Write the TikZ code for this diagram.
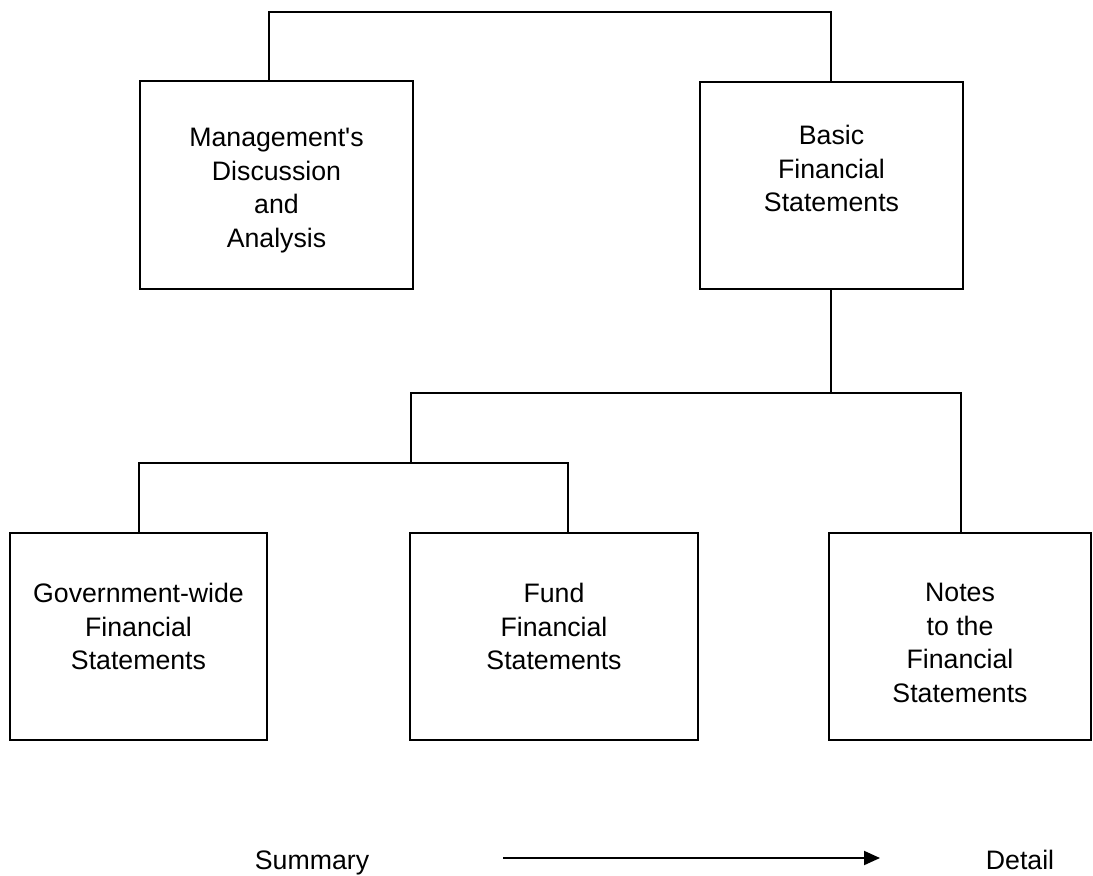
\documentclass[tikz,border=0pt]{standalone}
\usepackage{fontspec}
\setmainfont{Liberation Sans}[Ligatures=TeXOff]
\usetikzlibrary{arrows.meta}
\begin{document}
\begin{tikzpicture}[x=1pt,y=-1pt,
  box/.style={draw,line width=2pt,rectangle,inner sep=0pt},
  lbl/.style={anchor=north,align=center,inner sep=0pt,font=\fontsize{26.7}{33.5}\selectfont},
  plain/.style={anchor=base,inner sep=0pt,font=\fontsize{26.7}{33.5}\selectfont},
  conn/.style={line width=2pt,line join=miter}]
\useasboundingbox[fill=white] (0,0) rectangle (1093,876);
% boxes
\node[box,minimum width=273pt,minimum height=208pt] (mda) at (276.5,185) {};
\node[box,minimum width=263pt,minimum height=207pt] (bfs) at (831.5,185.5) {};
\node[box,minimum width=257pt,minimum height=207pt] (gov) at (138.5,636.5) {};
\node[box,minimum width=288pt,minimum height=207pt] (fund) at (554,636.5) {};
\node[box,minimum width=262pt,minimum height=207pt] (notes) at (960,636.5) {};
% labels
\node[lbl] (mdat) at (276.5,128) {Management's\\Discussion\\and\\Analysis};
\node[lbl] (bfst) at (831.5,125) {Basic\\Financial\\Statements};
\node[lbl] (govt) at (138.5,583) {Government-wide\\Financial\\Statements};
\node[lbl] (fundt) at (554,583) {Fund\\Financial\\Statements};
\node[lbl] (notest) at (960,583) {Notes\\to the\\Financial\\Statements};
% connector coordinates
\coordinate (t1) at (269,12);
\coordinate (t2) at (831,12);
\coordinate (j1) at (831,393);
\coordinate (jl) at (411,393);
\coordinate (jr) at (961,393);
\coordinate (j2) at (411,463);
\coordinate (gl) at (139,463);
\coordinate (fc) at (568,463);
% connectors
\draw[conn] (mda.north -| t1) -- (t1) -- (t2) -- (bfs.north -| t2);
\draw[conn] (bfs.south -| j1) -- (j1);
\draw[conn] (j2) -- (jl) -- (jr) -- (notes.north -| jr);
\draw[conn] (gov.north -| gl) -- (gl) -- (fc) -- (fund.north -| fc);
% bottom arrow
\node[plain] (sum) at (312,869) {Summary};
\node[plain] (det) at (1020,869) {Detail};
\coordinate (as) at (503,858);
\coordinate (ae) at (880,858);
\draw[line width=2pt,-{Triangle[length=16pt,width=14pt]}] (as) -- (ae);
\end{tikzpicture}
\end{document}
